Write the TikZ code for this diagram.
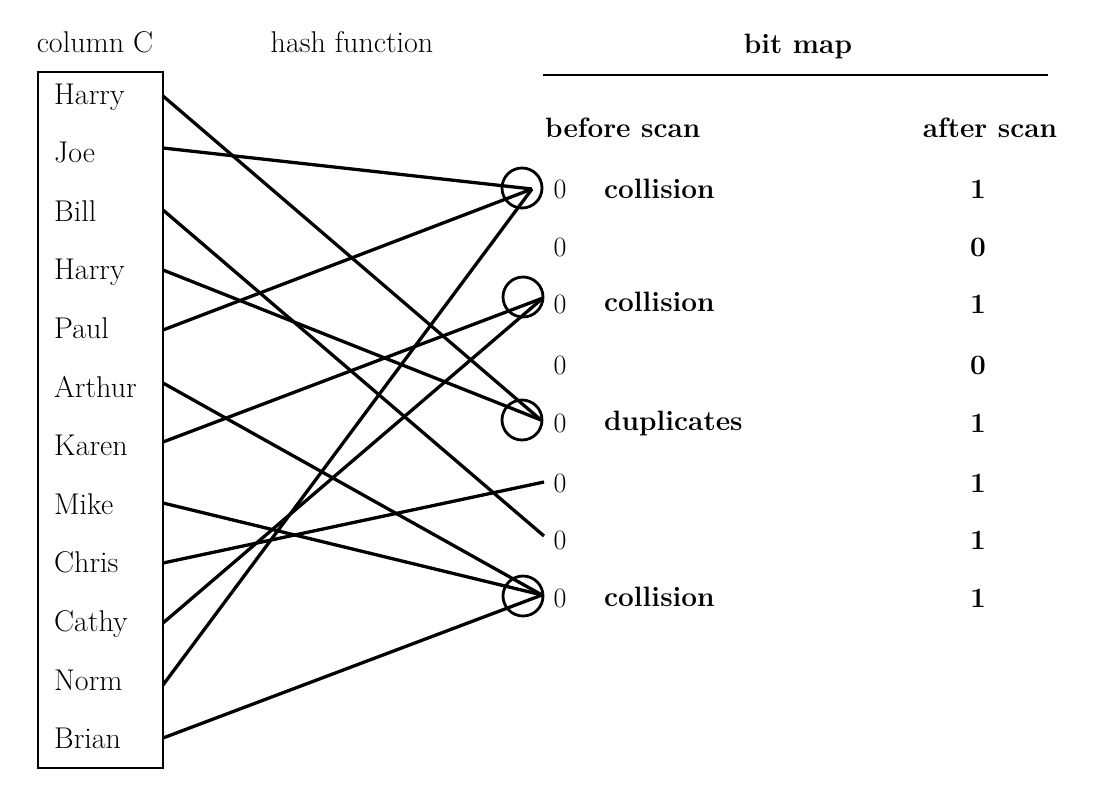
\documentclass[tikz,border=0pt]{standalone}
\begin{document}
\begin{tikzpicture}[x=1pt,y=-1pt,
  cname/.style={anchor=base west,inner sep=0pt,font=\fontsize{30}{34}\selectfont},
  hdr/.style={anchor=base,inner sep=0pt,font=\fontsize{30}{34}\selectfont},
  bhdr/.style={inner sep=0pt,font=\fontsize{28}{32}\selectfont\bfseries},
  bitlbl/.style={inner sep=0pt,font=\fontsize{28}{32}\selectfont},
  abitlbl/.style={inner sep=0pt,font=\fontsize{28}{32}\selectfont\bfseries},
  conn/.style={line width=3.3pt},
  ring/.style={draw,line width=2.8pt,circle,minimum size=40pt,inner sep=0pt}]
\useasboundingbox (0,0) rectangle (1100,798);
% headers
\node[hdr] (hc) at (95,52) {column C};
\node[hdr] (hh) at (352,52) {hash function};
\node[bhdr,anchor=base] (hb) at (798,53) {bit map};
\coordinate (rl) at (543,75);
\coordinate (rr) at (1048,75);
\draw[line width=2.8pt] (rl) -- (rr);
\node[bhdr,anchor=base west] (bs) at (545,137) {before scan};
\node[bhdr,anchor=base] (as) at (990,137) {after scan};
% column box
\draw[line width=2.6pt] (38,72) rectangle (163,768);
\foreach \n/\t [count=\i from 0] in {n1/Harry,n2/Joe,n3/Bill,n4/Harry,n5/Paul,n6/Arthur,n7/Karen,n8/Mike,n9/Chris,n10/Cathy,n11/Norm,n12/Brian}
  \node[cname] (\n) at (54,{104+58.6*\i}) {\t};
% start coordinates on box edge
\coordinate (s1) at (163,96);
\coordinate (s2) at (163,148);
\coordinate (s3) at (163,210);
\coordinate (s4) at (163,270);
\coordinate (s5) at (163,330);
\coordinate (s6) at (163,383);
\coordinate (s7) at (163,442);
\coordinate (s8) at (163,503);
\coordinate (s9) at (163,563);
\coordinate (s10) at (163,623);
\coordinate (s11) at (163,685);
\coordinate (s12) at (163,738);
% bits
\foreach \y [count=\i] in {189,247,304,365,423,483,540,598}{
  \node[bitlbl] (b\i) at (560,\y) {0};
}
\foreach \v/\y [count=\i] in {1/189,0/247,1/304,0/365,1/423,1/483,1/540,1/598}{
  \node[abitlbl] (a\i) at (978,\y) {\v};
}
% circles
\node[ring] (c1) at (522,188) {};
\node[ring] (c3) at (523,297) {};
\node[ring] (c5) at (522,420) {};
\node[ring] (c8) at (523,596) {};
% end points
\coordinate (e1) at (532,189);
\coordinate (e3) at (543,298);
\coordinate (e5) at (541,420);
\coordinate (e6) at (544,482);
\coordinate (e7) at (544,536);
\coordinate (e8) at (542,595);
% labels
\node[bhdr,anchor=west] (l1) at (604,189) {collision};
\node[bhdr,anchor=west] (l3) at (604,302) {collision};
\node[bhdr,anchor=west] (l5) at (604,423) {duplicates};
\node[bhdr,anchor=west] (l8) at (604,597) {collision};
% connectors
\draw[conn] (s1) -- (e5);
\draw[conn] (s2) -- (e1);
\draw[conn] (s3) -- (e7);
\draw[conn] (s4) -- (e5);
\draw[conn] (s5) -- (e1);
\draw[conn] (s6) -- (e8);
\draw[conn] (s7) -- (e3);
\draw[conn] (s8) -- (e8);
\draw[conn] (s9) -- (e6);
\draw[conn] (s10) -- (e3);
\draw[conn] (s11) -- (e1);
\draw[conn] (s12) -- (e8);
\end{tikzpicture}
\end{document}
